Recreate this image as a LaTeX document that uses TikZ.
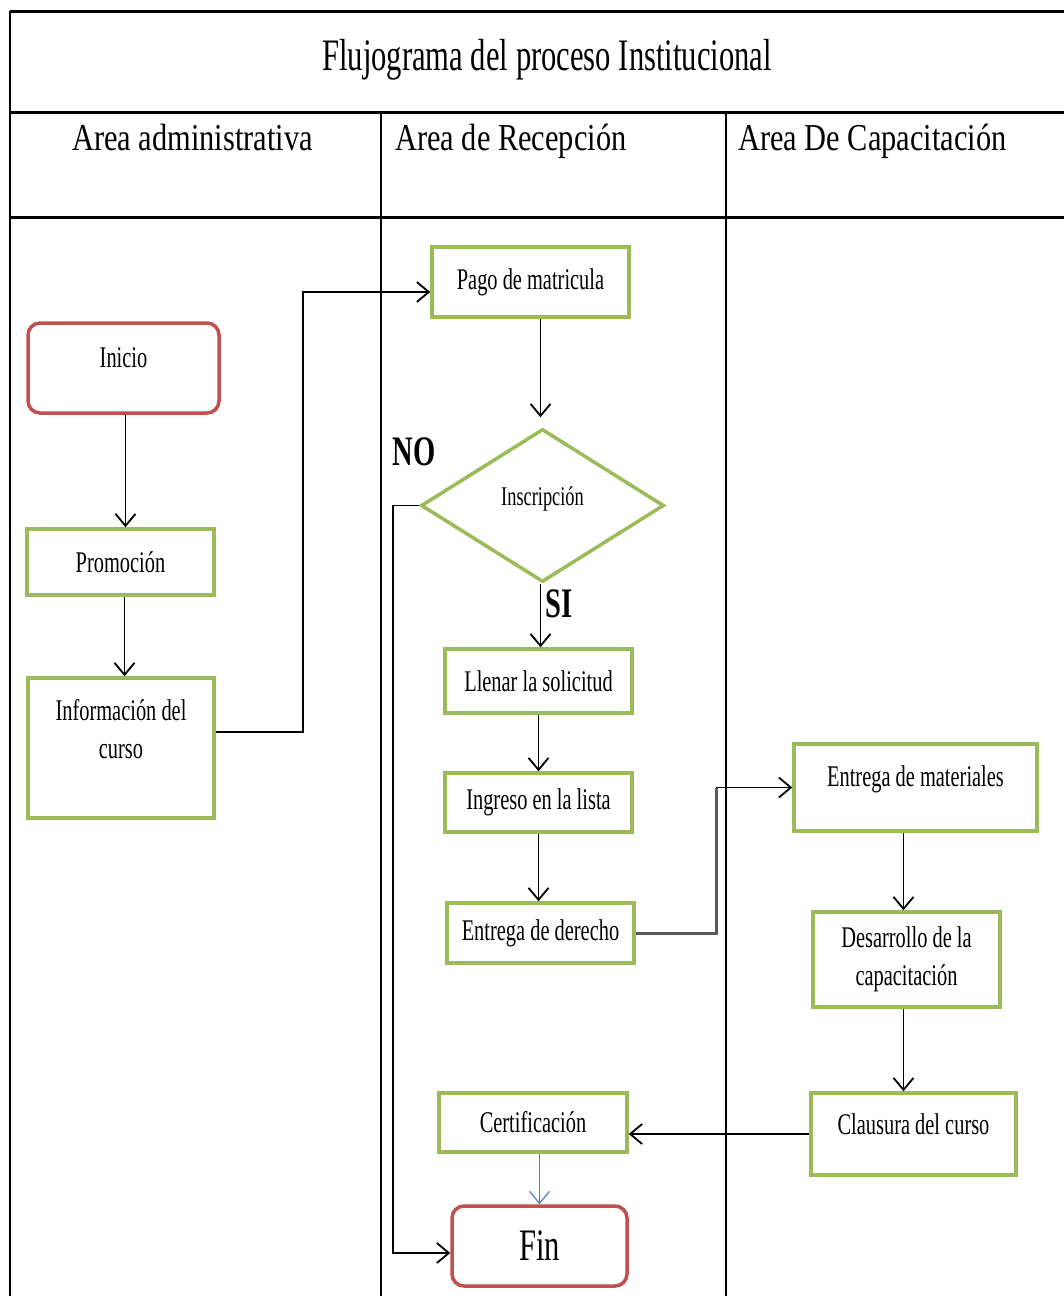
\documentclass[tikz,border=0pt]{standalone}
\usepackage{fontspec}
\setmainfont[FakeStretch=0.68]{Liberation Serif}
\newfontfamily\hdrfont[FakeStretch=0.8]{Liberation Serif}
\usetikzlibrary{arrows.meta,shapes.geometric,calc}
\definecolor{grn}{HTML}{9BBB59}
\definecolor{redc}{HTML}{C0504D}
\definecolor{bluec}{HTML}{4F81BD}
\begin{document}
\begin{tikzpicture}[x=1pt,y=-1pt,
  box/.style={draw=grn, line width=3.5pt, fill=white, inner sep=0pt, align=center,
              font=\fontsize{30}{38}\selectfont},
  term/.style={draw=redc, line width=3.5pt, fill=white, rounded corners=12pt, inner sep=0pt,
              font=\fontsize{30}{38}\selectfont},
  decis/.style={diamond, draw=grn, line width=3.5pt, fill=white, inner sep=0pt, aspect=1.59,
              font=\fontsize{27}{32}\selectfont},
  lane/.style={line width=1.5pt},
  heavy/.style={line width=3pt},
  arr/.style={line width=1.8pt, -{Straight Barb[length=12pt,width=20pt]}},
  hdr/.style={anchor=base west, inner sep=0pt, font=\hdrfont\fontsize{38}{44}\selectfont},
  lbl/.style={inner sep=0pt, font=\fontsize{42}{46}\selectfont\bfseries}
]
\useasboundingbox (0,0) rectangle (1064,1296);
% frame and lanes
\draw[heavy] (10,11) -- (1064,11);
\draw[line width=2pt] (10,11) -- (10,1296);
\draw[heavy] (10,112) -- (1064,112);
\draw[heavy] (10,217) -- (1064,217);
\draw[lane] (381,112) -- (381,1296);
\draw[lane] (726,112) -- (726,1296);
% title and headers
\node[anchor=base, inner sep=0pt, font=\fontsize{45}{50}\selectfont] (title) at (547,70) {Flujograma del proceso Institucional};
\node[hdr] (h1) at (72,150) {Area administrativa};
\node[hdr] (h2) at (395,150) {Area de Recepción};
\node[hdr] (h3) at (738,150) {Area De Capacitación};
% nodes
\node[term, minimum width=191pt, minimum height=90pt, text depth=20pt] (inicio) at (123.5,368) {Inicio};
\node[box, minimum width=187pt, minimum height=66pt] (promo) at (120.5,562) {Promoción};
\node[box, minimum width=186pt, minimum height=140pt] (info) at (121,748) {Información del\\ curso\\ \mbox{}};
\node[box, minimum width=197pt, minimum height=70pt] (pago) at (530.5,282) {Pago de matricula};
\node[decis, minimum width=243pt, minimum height=153pt, text depth=19pt] (insc) at (542.5,505.5) {Inscripción};
\node[box, minimum width=187pt, minimum height=64pt] (llenar) at (538.5,681) {Llenar la solicitud};
\node[box, minimum width=187pt, minimum height=59pt] (ingreso) at (538.5,802.5) {Ingreso en la lista};
\node[box, minimum width=187pt, minimum height=60pt] (derecho) at (540.5,933) {Entrega de derecho};
\node[box, minimum width=243pt, minimum height=87pt, text depth=22pt] (mater) at (915.5,787.5) {Entrega de materiales};
\node[box, minimum width=187pt, minimum height=95pt] (desar) at (906.5,959.5) {Desarrollo de la\\ capacitación};
\node[box, minimum width=205pt, minimum height=82pt, text depth=20pt] (claus) at (913.5,1134) {Clausura del curso};
\node[box, minimum width=188pt, minimum height=59pt] (cert) at (533,1122.5) {Certificación};
\node[term, minimum width=175pt, minimum height=80pt, font=\fontsize{45}{50}\selectfont] (fin) at (539.5,1246) {Fin};
% labels
\node[lbl] (no) at (414,452) {NO};
\node[lbl] (si) at (559,604) {SI};
% bend coordinates
\coordinate (b1) at (303,0);
\coordinate (b2) at (716,0);
\coordinate (b3) at (393,0);
\coordinate (infoout) at ([yshift=16pt]info.east);
\coordinate (pagoin) at ([yshift=-10pt]pago.west);
\coordinate (finin) at ([yshift=-7pt]fin.west);
% connectors
\draw[arr] ([xshift=2pt]inicio.south) -- ([xshift=2pt]inicio.south |- promo.north);
\draw[arr] ([xshift=4pt]promo.south) -- ([xshift=4pt]promo.south |- info.north);
\draw[arr] (infoout) -- (infoout -| b1) |- (pagoin);
\draw[arr, shorten >=10pt] ([xshift=-2pt]insc.north |- pago.south) -- ([xshift=-2pt]insc.north);
\draw[arr] ([xshift=-2pt]insc.south) -- ([xshift=-2pt]insc.south |- llenar.north);
\draw[arr] (insc.west) -- (insc.west -| b3) |- (finin);
\draw[arr] (llenar.south) -- (llenar.south |- ingreso.north);
\draw[arr] (ingreso.south) -- (ingreso.south |- derecho.north);
\draw[line width=3pt, draw=black!65] (derecho.east) -- (derecho.east -| b2) -- (mater.west -| b2);
\draw[arr] (mater.west -| b2) -- (mater.west);
\draw[arr] ([xshift=-3pt]desar.north |- mater.south) -- ([xshift=-3pt]desar.north);
\draw[arr] ([xshift=-3pt]desar.south) -- ([xshift=-3pt]desar.south |- claus.north);
\draw[arr] (claus.west) -- (claus.west -| cert.east);
\draw[line width=1.2pt, draw=bluec, -{Straight Barb[length=12pt,width=20pt]}] (cert.south -| fin.north) -- (fin.north);
\end{tikzpicture}
\end{document}
